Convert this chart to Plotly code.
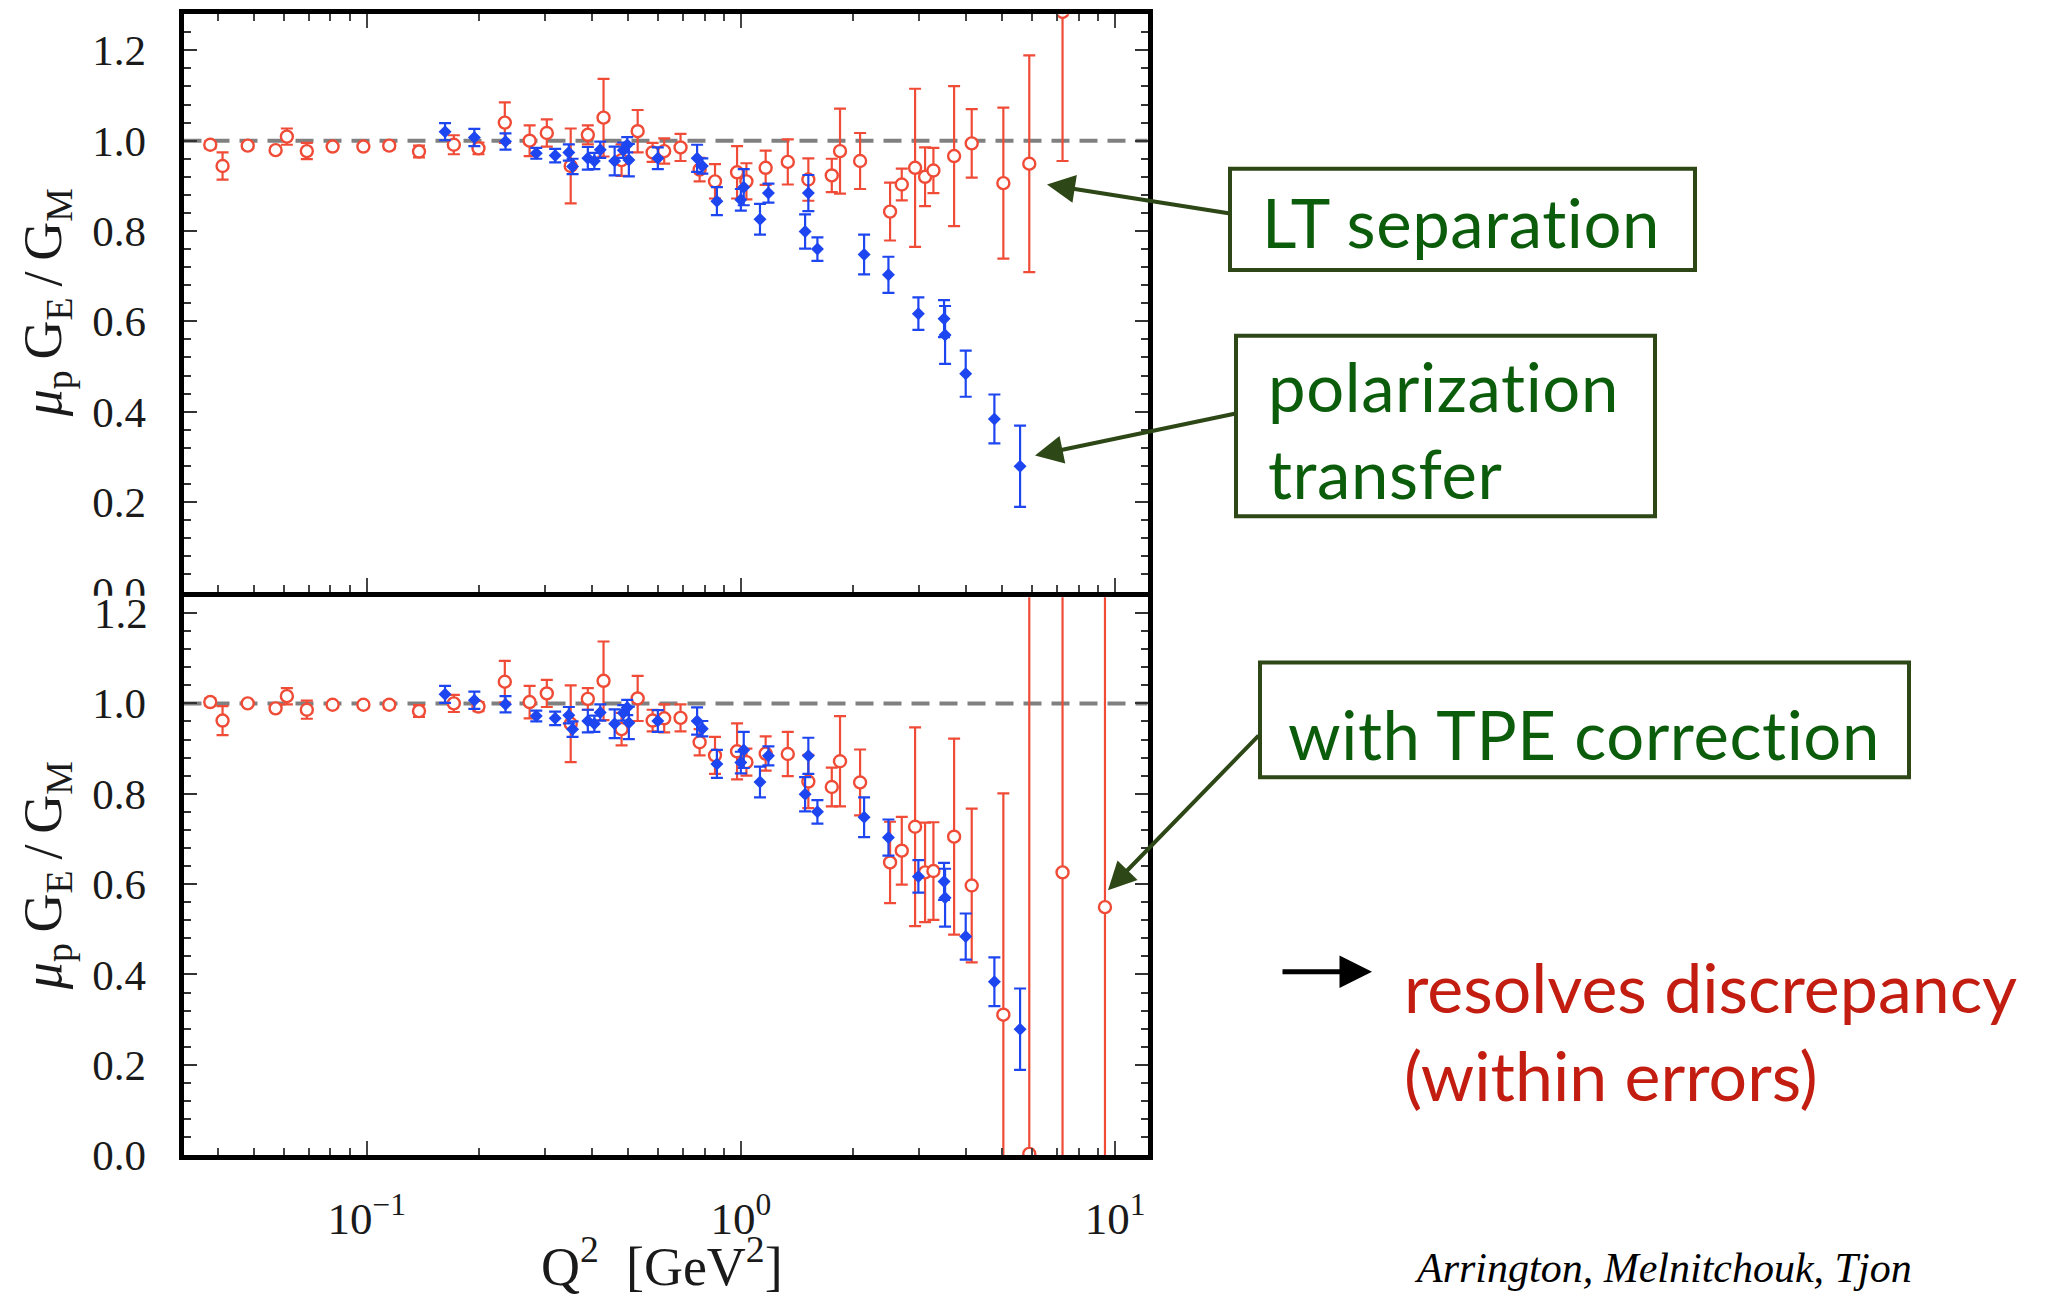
import plotly.graph_objects as go

W, H = 2047, 1296

# ---------------- data ----------------
# polarization transfer (blue, identical in both panels)
pt_q = [0.162, 0.194, 0.235, 0.284, 0.319, 0.347, 0.355, 0.390, 0.406, 0.421,
        0.460, 0.485, 0.497, 0.502, 0.600, 0.764, 0.789, 0.863, 1.00, 1.018,
        1.125, 1.185, 1.485, 1.515, 1.602, 2.135, 2.480, 2.982, 3.492, 3.514,
        3.99, 4.76, 5.575]
pt_r = [1.020, 1.007, 0.998, 0.972, 0.967, 0.974, 0.943, 0.961, 0.955, 0.980,
        0.955, 0.979, 0.991, 0.957, 0.961, 0.961, 0.944, 0.866, 0.869, 0.897,
        0.826, 0.884, 0.799, 0.884, 0.760, 0.748, 0.703, 0.617, 0.606, 0.570,
        0.484, 0.384, 0.279]
pt_e = [0.019, 0.019, 0.018, 0.012, 0.015, 0.018, 0.017, 0.025, 0.018, 0.018,
        0.032, 0.017, 0.017, 0.036, 0.024, 0.030, 0.017, 0.031, 0.024, 0.040,
        0.034, 0.021, 0.038, 0.040, 0.026, 0.044, 0.040, 0.036, 0.041, 0.064,
        0.051, 0.054, 0.090]

# LT separation (red, top panel)
lt_q = [0.0382, 0.0412, 0.0481, 0.0571, 0.0612, 0.0692, 0.0811, 0.098, 0.1149, 0.138,
        0.171, 0.199, 0.234, 0.2726, 0.303, 0.351, 0.390, 0.4296, 0.480, 0.530,
        0.581, 0.624, 0.690, 0.776, 0.853, 0.977, 1.035, 1.165, 1.335, 1.515,
        1.750, 1.841, 2.083, 2.505, 2.692, 2.922, 3.107, 3.271, 3.715, 4.14,
        5.03, 5.90, 7.24]
lt_r = [0.991, 0.944, 0.989, 0.979, 1.009, 0.977, 0.987, 0.987, 0.989, 0.976,
        0.991, 0.983, 1.040, 1.000, 1.017, 0.944, 1.013, 1.051, 0.957, 1.021,
        0.974, 0.977, 0.985, 0.936, 0.910, 0.930, 0.910, 0.940, 0.953, 0.914,
        0.923, 0.977, 0.955, 0.843, 0.903, 0.940, 0.920, 0.934, 0.966, 0.994,
        0.906, 0.949, 1.285]
lt_e = [0.008, 0.030, 0.004, 0.004, 0.018, 0.018, 0.004, 0.004, 0.008, 0.013,
        0.021, 0.013, 0.045, 0.034, 0.030, 0.083, 0.021, 0.086, 0.035, 0.047,
        0.021, 0.028, 0.030, 0.026, 0.038, 0.058, 0.040, 0.038, 0.050, 0.047,
        0.037, 0.094, 0.062, 0.064, 0.035, 0.175, 0.065, 0.050, 0.155, 0.076,
        0.167, 0.240, 0.330]

# LT separation with TPE correction (red, bottom panel)
tpe_q = [0.0382, 0.0412, 0.0481, 0.0571, 0.0612, 0.0692, 0.0811, 0.098, 0.1149, 0.138,
         0.171, 0.199, 0.234, 0.2726, 0.303, 0.351, 0.390, 0.4296, 0.480, 0.530,
         0.581, 0.624, 0.690, 0.776, 0.853, 0.977, 1.035, 1.165, 1.335, 1.515,
         1.750, 1.841, 2.083, 2.505, 2.692, 2.922, 3.107, 3.271, 3.715, 4.14,
         5.03, 5.90, 7.24, 9.40]
tpe_r = [1.003, 0.962, 1.000, 0.989, 1.016, 0.986, 0.997, 0.997, 0.997, 0.983,
         1.000, 0.993, 1.048, 1.003, 1.022, 0.955, 1.010, 1.050, 0.943, 1.011,
         0.962, 0.967, 0.968, 0.914, 0.885, 0.894, 0.870, 0.889, 0.888, 0.827,
         0.815, 0.872, 0.825, 0.648, 0.674, 0.727, 0.626, 0.629, 0.705, 0.597,
         0.311, 0.003, 0.626, 0.549]
tpe_e = [0.008, 0.032, 0.004, 0.004, 0.018, 0.020, 0.004, 0.004, 0.008, 0.013,
         0.019, 0.010, 0.046, 0.036, 0.030, 0.085, 0.024, 0.087, 0.036, 0.050,
         0.024, 0.031, 0.030, 0.029, 0.041, 0.062, 0.030, 0.038, 0.049, 0.059,
         0.043, 0.100, 0.073, 0.090, 0.075, 0.220, 0.110, 0.108, 0.217, 0.170,
         0.490, 1.500, 0.900, 0.900]

x_major = [0.1, 1, 10]
x_major_text = ["10<sup>−1</sup>", "10<sup>0</sup>", "10<sup>1</sup>"]
x_minor = [m * 10.0 ** k for k in (-2, -1, 0, 1) for m in range(2, 10)]
y_ticks = [0.0, 0.2, 0.4, 0.6, 0.8, 1.0, 1.2]
y_text = ["0.0", "0.2", "0.4", "0.6", "0.8", "1.0", "1.2"]

# ---------------- styling ----------------
RED = "#ef4b36"
BLUE = "#1d45f0"
GREEN_TXT = "#0b5c0b"
GREEN_LINE = "#2d4716"
DARKRED = "#c21d10"
SERIF = "Liberation Serif"
SANS = "Lato"


def nolig(s):
    # a tiny letter-spacing switches off the "ti" ligature of the font
    return '<span style="letter-spacing:0.6px">' + s + "</span>"


def px_x(p):
    return p / W


def px_y(p):
    return 1 - p / H


red_marker = dict(symbol="circle", size=12, color="white", line=dict(color=RED, width=2.4))
blue_marker = dict(symbol="diamond", size=10, color=BLUE, line=dict(width=0))


def errbar(arr, color):
    return dict(type="data", array=arr, visible=True, color=color, thickness=2.2, width=6)


fig = go.Figure()
fig.add_trace(go.Scatter(x=lt_q, y=lt_r, mode="markers", marker=red_marker,
                         error_y=errbar(lt_e, RED), xaxis="x", yaxis="y",
                         name="LT separation", showlegend=False))
fig.add_trace(go.Scatter(x=pt_q, y=pt_r, mode="markers", marker=blue_marker,
                         error_y=errbar(pt_e, BLUE), xaxis="x", yaxis="y",
                         name="polarization transfer", showlegend=False))
fig.add_trace(go.Scatter(x=tpe_q, y=tpe_r, mode="markers", marker=red_marker,
                         error_y=errbar(tpe_e, RED), xaxis="x2", yaxis="y2",
                         name="with TPE correction", showlegend=False))
fig.add_trace(go.Scatter(x=pt_q, y=pt_r, mode="markers", marker=blue_marker,
                         error_y=errbar(pt_e, BLUE), xaxis="x2", yaxis="y2",
                         name="polarization transfer", showlegend=False))

x_dom = [px_x(183.5), px_x(1147.5)]
x_rng = [-1.4895, 1.0868]
tick_font = dict(family=SERIF, size=43, color="#1a1a1a")

common_x = dict(type="log", range=x_rng, domain=x_dom, showline=True, linecolor="black",
                linewidth=5, ticks="inside", ticklen=14, tickwidth=2, tickcolor="#444",
                tickmode="array", tickvals=x_major, showgrid=False, zeroline=False,
                minor=dict(tickmode="array", tickvals=x_minor, ticks="inside", ticklen=7,
                           tickwidth=2, tickcolor="#444", showgrid=False))

common_y = dict(showline=True, linecolor="black", linewidth=5, mirror="allticks",
                ticks="inside", ticklen=13, tickwidth=2, tickcolor="#333",
                tickmode="array", tickvals=y_ticks, showgrid=False, zeroline=False,
                tickfont=tick_font, ticklabelstandoff=24,
                minor=dict(dtick=0.04, tick0=0, ticks="inside", ticklen=7, tickwidth=2,
                           tickcolor="#333", showgrid=False))

fig.update_layout(
    width=W, height=H, margin=dict(l=0, r=0, t=0, b=0),
    paper_bgcolor="white", plot_bgcolor="white", showlegend=False,
    xaxis=dict(common_x, anchor="y", mirror="allticks", showticklabels=False),
    xaxis2=dict(common_x, anchor="y2", mirror=True, matches="x", showticklabels=True,
                ticktext=x_major_text, tickfont=dict(family=SERIF, size=45, color="#1a1a1a"),
                ticklabelstandoff=20),
    yaxis=dict(common_y, anchor="x", range=[0, 1.28],
               domain=[px_y(603.5), px_y(14.5)], ticktext=y_text),
    yaxis2=dict(common_y, anchor="x2", range=[0, 1.235],
                domain=[px_y(1177), px_y(608.5)], ticktext=y_text[:-1] + [""]),
)

shapes = []
# dashed reference line at unity in both panels
for yr in ("y", "y2"):
    shapes.append(dict(type="line", xref="x domain" if yr == "y" else "x2 domain",
                       x0=0, x1=1, yref=yr, y0=1, y1=1, layer="below",
                       line=dict(color="#808080", width=4, dash="18px,10px")))
# cover the lower half of the top panel's "0.0" label (hidden behind lower panel)
shapes.append(dict(type="rect", xref="paper", yref="paper", layer="above",
                   x0=px_x(90), x1=px_x(176), y0=px_y(645), y1=px_y(607),
                   fillcolor="white", line=dict(width=0)))
# annotation boxes
for (x0, x1, y0, y1) in [(1230, 1695, 172, 275), (1236, 1655, 342, 526), (1260, 1909, 675, 792)]:
    shapes.append(dict(type="rect", xref="paper", yref="paper",
                       x0=px_x(x0), x1=px_x(x1), y0=px_y(y1), y1=px_y(y0),
                       line=dict(color=GREEN_LINE, width=4), fillcolor="rgba(0,0,0,0)"))
fig.update_layout(shapes=shapes)

ann = []
# bottom panel "1.2" label drawn above the cover
ann.append(dict(text="1.2", xref="paper", yref="y2", x=px_x(150), y=1.2, xanchor="right",
                yanchor="middle", showarrow=False, font=tick_font))
# y-axis titles
ytitle = "<i>μ</i><sub>p</sub>\u2009G<sub>E</sub>\u2009/\u2009G<sub>M</sub>"
for yc in ((14.5 + 603.5) / 2, (608.5 + 1177) / 2):
    ann.append(dict(text=ytitle, xref="paper", yref="paper", x=px_x(46), y=px_y(yc),
                    xanchor="center", yanchor="middle", textangle=-90, showarrow=False,
                    font=dict(family=SERIF, size=54, color="#1a1a1a")))
# x-axis title
ann.append(dict(text="Q<sup>2</sup>\u00a0\u00a0[GeV<sup>2</sup>]", xref="paper", yref="paper",
                x=px_x(662), y=px_y(1249), xanchor="center", yanchor="top", showarrow=False,
                font=dict(family=SERIF, size=54, color="#1a1a1a")))
# box texts
box_font = dict(family=SANS, size=67, color=GREEN_TXT)
ann.append(dict(text=nolig("LT separation"), xref="paper", yref="paper", x=px_x(1260),
                y=px_y(226), xanchor="left", yanchor="middle", showarrow=False, font=box_font))
ann.append(dict(text=nolig("polarization") + "<br>" + nolig("transfer"), xref="paper",
                yref="paper", x=px_x(1266), y=px_y(438), xanchor="left", yanchor="middle",
                align="left", showarrow=False, font=box_font))
ann.append(dict(text=nolig("with TPE correction"), xref="paper", yref="paper", x=px_x(1286),
                y=px_y(748), xanchor="left", yanchor="middle", showarrow=False, font=box_font))
# arrows from boxes to data
for (tx, ty, axo, ayo) in [(1047, 188, 183, 29), (1035, 464, 201, -42), (1108, 907, 152, -156)]:
    ann.append(dict(text="", xref="paper", yref="paper", x=px_x(tx), y=px_y(ty),
                    ax=axo, ay=ayo, showarrow=True, arrowhead=2, arrowsize=1.4,
                    arrowwidth=4, arrowcolor=GREEN_LINE, standoff=0))
# black arrow and conclusion text
ann.append(dict(text="", xref="paper", yref="paper", x=px_x(1372), y=px_y(990),
                ax=-91, ay=0, showarrow=True, arrowhead=2, arrowsize=1.3,
                arrowwidth=5, arrowcolor="black", standoff=0))
ann.append(dict(text="resolves discrepancy<br>(within errors)", xref="paper", yref="paper",
                x=px_x(1402), y=px_y(1050), xanchor="left", yanchor="middle", align="left",
                showarrow=False, font=dict(family=SANS, size=68, color=DARKRED)))
ann.append(dict(text="<i>Arrington, Melnitchouk, Tjon</i>", xref="paper", yref="paper",
                x=px_x(1412), y=px_y(1292), xanchor="left", yanchor="middle",
                showarrow=False, font=dict(family=SERIF, size=42, color="black")))
fig.update_layout(annotations=ann)

fig.write_html("out.html")
